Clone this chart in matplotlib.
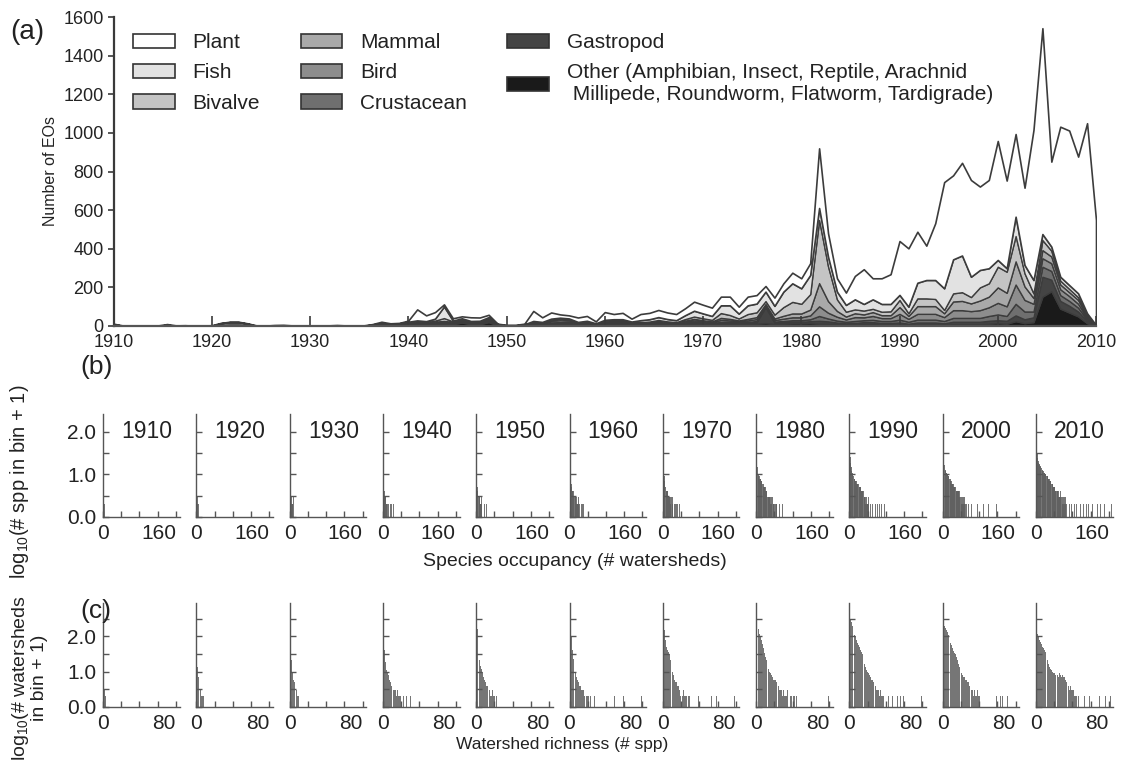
import numpy as np
import matplotlib
matplotlib.use('Agg')
import matplotlib.pyplot as plt
from matplotlib.patches import Patch

plt.rcParams['font.family'] = ['Liberation Sans', 'DejaVu Sans']
plt.rcParams['mathtext.default'] = 'regular'

# ---- panel (a): number of EOs, stacked by group (111 points, 1910-2010) ----
total = [12, 3, 2, 2, 2, 3, 10, 3, 4, 2,
         2, 4, 16, 22, 22, 14, 3, 2, 5, 6,
         3, 2, 2, 2, 3, 5, 3, 2, 3, 10,
         22, 14, 16, 28, 86, 55, 72, 112, 40, 50,
         45, 44, 58, 12, 6, 6, 12, 78, 45, 70,
         60, 55, 44, 52, 24, 72, 62, 68, 38, 62,
         68, 83, 70, 62, 92, 126, 110, 95, 152, 152,
         100, 152, 160, 207, 147, 221, 276, 247, 325, 920,
         480, 247, 173, 259, 294, 247, 247, 268, 440, 402,
         488, 416, 532, 745, 780, 845, 756, 722, 756, 958,
         753, 994, 716, 1015, 1542, 851, 1032, 1012, 877, 1050, 549]

other = [6, 1, 1, 1, 1, 1, 6, 1, 2, 1,
         1, 1, 2, 2, 2, 2, 1, 1, 2, 3,
         1, 1, 1, 1, 1, 3, 1, 1, 1, 4,
         6, 5, 6, 8, 8, 8, 10, 8, 10, 18,
         10, 10, 20, 4, 2, 2, 3, 6, 6, 8,
         8, 8, 6, 8, 5, 10, 12, 12, 8, 5,
         6, 8, 6, 5, 8, 10, 8, 6, 10, 10,
         8, 10, 12, 15, 10, 12, 14, 14, 15, 12,
         12, 10, 8, 8, 10, 10, 8, 8, 8, 6,
         8, 8, 8, 6, 10, 10, 10, 10, 12, 15,
         12, 25, 15, 20, 152, 180, 90, 70, 50, 15, 1]

gastropod = [4, 0, 0, 0, 0, 0, 0, 0, 0, 0,
             0, 0, 0, 0, 0, 0, 0, 0, 0, 0,
             0, 0, 0, 0, 0, 0, 0, 0, 0, 2,
             4, 2, 3, 4, 5, 4, 5, 5, 6, 8,
             5, 6, 10, 2, 1, 1, 2, 4, 4, 4,
             5, 5, 4, 5, 3, 5, 6, 6, 4, 3,
             4, 5, 4, 3, 5, 6, 5, 4, 6, 6,
             5, 6, 8, 85, 8, 8, 8, 8, 10, 15,
             12, 8, 6, 8, 10, 10, 8, 8, 10, 6,
             10, 10, 10, 8, 12, 12, 12, 12, 15, 15,
             15, 30, 20, 25, 103, 60, 40, 35, 25, 10, 1]

crustacean = [0, 0, 0, 0, 0, 0, 0, 0, 0, 0,
              0, 0, 0, 0, 0, 0, 0, 0, 0, 0,
              0, 0, 0, 0, 0, 0, 0, 0, 0, 1,
              1, 1, 1, 2, 3, 2, 2, 3, 2, 3,
              2, 2, 3, 1, 0, 0, 1, 3, 2, 3,
              3, 3, 2, 3, 1, 3, 3, 3, 2, 3,
              3, 4, 3, 3, 4, 5, 5, 4, 6, 5,
              4, 5, 6, 4, 5, 6, 8, 8, 10, 25,
              15, 10, 8, 10, 10, 12, 10, 10, 15, 10,
              15, 15, 15, 12, 20, 20, 20, 20, 25, 30,
              25, 60, 40, 30, 52, 45, 30, 25, 20, 8, 1]

bird = [0, 0, 0, 0, 0, 0, 0, 0, 0, 0,
        0, 0, 4, 6, 6, 4, 0, 0, 0, 0,
        0, 0, 0, 0, 0, 0, 0, 0, 0, 0,
        1, 1, 1, 2, 3, 2, 3, 5, 2, 3,
        2, 2, 3, 1, 0, 0, 1, 3, 2, 4,
        4, 4, 2, 3, 1, 3, 3, 3, 2, 3,
        4, 5, 4, 3, 6, 8, 6, 5, 10, 8,
        6, 8, 10, 5, 8, 12, 15, 15, 20, 50,
        30, 20, 12, 20, 15, 20, 15, 15, 30, 15,
        30, 30, 30, 20, 40, 40, 35, 40, 45, 60,
        50, 100, 60, 40, 44, 40, 30, 25, 20, 8, 0]

mammal = [0, 0, 0, 0, 0, 0, 0, 0, 0, 0,
          0, 0, 8, 12, 12, 6, 0, 0, 0, 0,
          0, 0, 0, 0, 0, 0, 0, 0, 0, 0,
          1, 1, 1, 2, 3, 2, 3, 5, 2, 3,
          2, 2, 3, 1, 0, 0, 1, 3, 2, 8,
          10, 8, 2, 3, 1, 3, 3, 3, 2, 3,
          3, 4, 3, 3, 5, 8, 6, 5, 10, 8,
          6, 8, 10, 5, 8, 15, 20, 20, 30, 120,
          60, 30, 15, 20, 15, 20, 15, 15, 35, 15,
          40, 40, 40, 20, 45, 48, 40, 50, 55, 80,
          70, 120, 70, 30, 42, 35, 25, 20, 20, 8, 0]

bivalve = [0, 0, 0, 0, 0, 0, 0, 0, 0, 0,
           0, 0, 0, 0, 0, 0, 0, 0, 0, 0,
           0, 0, 0, 0, 0, 0, 0, 0, 0, 0,
           0, 0, 0, 1, 2, 2, 5, 15, 2, 2,
           2, 2, 3, 0, 0, 0, 0, 2, 2, 6,
           8, 6, 2, 2, 1, 3, 3, 3, 2, 3,
           3, 5, 4, 3, 8, 12, 10, 8, 25, 20,
           10, 25, 25, 15, 20, 45, 60, 50, 80, 327,
           180, 60, 25, 20, 20, 17, 18, 20, 37, 14,
           40, 40, 37, 17, 42, 45, 33, 68, 69, 107,
           109, 131, 68, 24, 52, 30, 20, 17, 14, 7, 1]

fish = [0, 0, 0, 0, 0, 0, 0, 0, 0, 0,
        0, 0, 0, 0, 0, 0, 0, 0, 0, 0,
        0, 0, 0, 0, 0, 0, 0, 0, 0, 1,
        2, 2, 2, 3, 5, 5, 10, 60, 4, 3,
        3, 3, 4, 1, 0, 0, 1, 5, 3, 5,
        5, 5, 3, 3, 2, 5, 5, 5, 3, 10,
        12, 15, 12, 10, 20, 30, 25, 20, 40, 50,
        25, 45, 45, 49, 45, 80, 96, 80, 99, 62,
        50, 40, 35, 52, 34, 49, 40, 38, 26, 34,
        81, 95, 98, 112, 176, 190, 105, 90, 78, 35,
        18, 100, 43, 69, 31, 21, 20, 20, 20, 10, 1]

group_names = ['Plant', 'Fish', 'Bivalve', 'Mammal', 'Bird', 'Crustacean', 'Gastropod',
               'Other (Amphibian, Insect, Reptile, Arachnid\n Millipede, Roundworm, Flatworm, Tardigrade)']
group_colors = ['#ffffff', '#e2e2e2', '#c4c4c4', '#a9a9a9', '#8d8d8d', '#6f6f6f', '#444444', '#1a1a1a']

year_ticks = list(range(1910, 2011, 10))

# ---- panels (b) and (c): histograms per decade ----
decades = ['1910', '1920', '1930', '1940', '1950', '1960', '1970', '1980', '1990', '2000', '2010']

# species per occupancy bin (consecutive bins from 1) and extra single-species bins
occ_head = [
    [18, 2, 1],
    [2, 2, 1, 1, 0, 1],
    [3, 2, 2, 1, 2, 1, 1, 2],
    [6, 4, 3, 2, 2, 2, 1, 1, 2, 1],
    [9, 4, 3, 3, 2, 2, 2, 2, 1, 1, 2, 1],
    [16, 9, 7, 5, 4, 3, 3, 3, 2, 2, 2, 2, 2, 2, 1, 2, 1, 1, 1, 2, 1, 1, 1],
    [20, 12, 8, 6, 5, 4, 4, 3, 3, 3, 3, 2, 2, 2, 2, 2, 1, 2, 2, 1, 2, 1],
    [32, 20, 14, 11, 9, 8, 8, 7, 7, 7, 6, 6, 5, 5, 5, 5, 4, 4, 4, 4, 3, 3, 3, 3, 2, 3, 2, 2,
     2, 2, 2, 1, 2, 1, 1, 2, 1, 1, 1, 0, 1, 1, 0, 1, 1],
    [40, 25, 18, 14, 11, 10, 9, 9, 8, 8, 7, 7, 6, 6, 6, 5, 5, 5, 5, 5, 4, 4, 4, 4, 4, 3, 3,
     3, 3, 3, 3, 2, 2, 2, 1, 2, 1, 2, 1, 1, 2, 1],
    [50, 30, 22, 16, 13, 12, 11, 10, 10, 9, 9, 8, 8, 8, 7, 7, 7, 6, 6, 5, 5, 5, 5, 4, 4, 4,
     4, 4, 3, 3, 3, 3, 3, 3, 3, 3, 2, 2, 2, 2, 1, 2, 2, 1, 2, 1, 1, 2, 1, 1, 1, 1],
    [60, 40, 30, 24, 20, 18, 17, 16, 15, 14, 13, 13, 12, 12, 11, 11, 10, 10, 10, 9, 9, 9, 8,
     8, 8, 8, 7, 7, 7, 6, 6, 6, 6, 5, 5, 5, 5, 4, 4, 4, 4, 3, 3, 3, 3, 3, 3, 3, 2, 3, 2, 2,
     3, 2, 2, 2, 2, 1, 2, 2, 1, 2, 1, 2, 1, 1],
]
occ_tail = [
    [], [], [], [13, 16, 19, 24], [15, 18, 22, 26], [26, 28, 31],
    [25, 28, 30, 33, 36, 40], [48, 52, 58], [46, 50, 54, 58, 62, 66, 70, 77],
    [56, 60, 64, 71, 76, 82, 90, 100, 118, 128],
    [70, 74, 78, 84, 88, 92, 98, 104, 110, 116, 124, 135, 142, 150, 160, 165],
]

# watersheds per richness bin
rich_head = [
    [24, 2, 1],
    [13, 6, 4, 3, 2, 1, 1, 1],
    [55, 20, 9, 5, 4, 3, 2, 2, 1, 1],
    [100, 40, 18, 10, 9, 7, 5, 4, 3, 3, 3, 2, 2, 2, 1, 2, 1, 1, 1, 0, 1],
    [160, 70, 35, 20, 14, 11, 9, 6, 5, 4, 3, 3, 2, 2, 2, 1, 1, 2, 1, 1],
    [250, 100, 40, 22, 14, 10, 8, 6, 5, 4, 3, 3, 2, 2, 2, 1, 2, 1, 1, 1, 1, 0, 1],
    [300, 150, 80, 50, 40, 35, 30, 20, 15, 11, 9, 7, 5, 4, 4, 3, 3, 2, 1, 2, 1, 1, 2, 1, 1,
     1, 0, 1, 1],
    [400, 250, 160, 120, 99, 80, 60, 45, 32, 25, 20, 16, 13, 11, 9, 8, 7, 6, 5, 5, 5, 4, 4,
     4, 3, 2, 2, 2, 1, 2, 1, 1, 1, 2, 1, 1, 0, 1, 1, 0, 1, 1, 0, 1],
    [320, 250, 200, 160, 130, 110, 99, 80, 65, 55, 48, 40, 35, 30, 25, 20, 16, 13, 10, 9, 8,
     7, 6, 5, 5, 4, 4, 3, 3, 2, 2, 2, 1, 2, 1, 1, 1, 1, 1],
    [250, 200, 170, 150, 130, 110, 99, 80, 65, 55, 45, 38, 33, 30, 25, 20, 16, 13, 11, 9, 8,
     7, 6, 6, 5, 5, 4, 4, 3, 3, 2, 2, 2, 1, 2, 1, 1, 2, 1, 1, 1],
    [160, 120, 100, 80, 70, 60, 50, 45, 40, 35, 30, 25, 20, 16, 13, 11, 10, 9, 8, 8, 7, 8, 7,
     7, 6, 8, 7, 6, 7, 6, 6, 5, 4, 4, 3, 3, 2, 3, 2, 2, 2, 1, 1, 1],
]
rich_tail = [
    [], [], [], [23, 26, 30], [22, 25], [27, 39, 49, 59, 79], [39, 53, 59, 79], [58, 79],
    [43, 47, 50, 53, 56, 59, 79], [59, 63, 66, 71, 77], [47, 53, 56, 59, 70, 76, 80, 82],
]

W, H = 1121, 763
TXT = '#222222'
AX = '#3a3a3a'


def box(l, t, r, b):
    return [l / W, 1 - b / H, (r - l) / W, (b - t) / H]


fig = plt.figure(figsize=(W / 100, H / 100), dpi=100)

# ---------------- (a) ----------------
ax = fig.add_axes(box(113.5, 17, 1096, 326))
x = np.linspace(1910, 2010, len(total))
lower = [other, gastropod, crustacean, bird, mammal, bivalve, fish]
lower_cols = group_colors[::-1][:7]
ax.stackplot(x, lower, colors=lower_cols, edgecolor='#3c3c3c', linewidth=1.0)
base = np.sum(np.array(lower), axis=0)
ax.fill_between(x, base, total, facecolor='white', edgecolor='#3c3c3c', linewidth=1.2)
ax.set_xlim(1910, 2010)
ax.set_ylim(0, 1600)
ax.set_xticks(year_ticks)
ax.set_yticks(range(0, 1601, 200))
ax.tick_params(axis='x', direction='in', length=7, width=1.2, colors=AX,
               labelcolor=TXT, labelsize=13, pad=6)
ax.tick_params(axis='y', direction='out', length=4, width=1.2, colors=AX,
               labelcolor=TXT, labelsize=13, pad=3)
for s in ['top', 'right']:
    ax.spines[s].set_visible(False)
ax.spines['left'].set_color(AX)
ax.spines['left'].set_linewidth(1.6)
ax.spines['bottom'].set_color('#555555')
ax.spines['bottom'].set_linewidth(1.6)
ax.set_ylabel('Number of EOs', fontsize=11.5, color=TXT, labelpad=4)

handles = [Patch(facecolor=c, edgecolor='#333333', linewidth=1.2) for c in group_colors]
ax.legend(handles, group_names, ncol=3, loc='upper left',
          bbox_to_anchor=(133 / W, 1 - 33 / H), bbox_transform=fig.transFigure,
          frameon=False, fontsize=15, handlelength=2.0, handleheight=0.68,
          handletextpad=0.85, labelspacing=0.55, columnspacing=1.95,
          borderpad=0, borderaxespad=0, labelcolor=TXT)

fig.text(10 / W, 1 - 32 / H, '(a)', fontsize=20, color=TXT, va='center', ha='left')
fig.text(80 / W, 1 - 367 / H, '(b)', fontsize=19, color=TXT, va='center', ha='left')
fig.text(80 / W, 1 - 611 / H, '(c)', fontsize=19, color=TXT, va='center', ha='left')


def small_panel(rect, heads, tails, xmax, ylim, xticks, yticks, bar_w, title, first):
    a = fig.add_axes(rect)
    pos = list(range(1, len(heads) + 1)) + tails
    cnt = heads + [1] * len(tails)
    a.bar(pos, np.log10(np.array(cnt) + 1), width=bar_w, color='#5e5e5e',
          linewidth=0, alpha=0.85)
    a.set_xlim(0, xmax)
    a.set_ylim(0, ylim)
    a.set_xticks(xticks, ['0'] + [''] * (len(xticks) - 2) + [str(xticks[-1])])
    a.get_xticklabels()[-1].set_horizontalalignment('right')
    if first:
        a.set_yticks(yticks, ['0.0' if v == 0 else ('%.1f' % v if v in (1.0, 2.0) else '')
                              for v in yticks])
    else:
        a.set_yticks(yticks, [''] * len(yticks))
    a.tick_params(direction='in', length=4, width=1, colors='#555555',
                  labelcolor=TXT, labelsize=15, pad=5)
    for s in ['top', 'right']:
        a.spines[s].set_visible(False)
    for s in ['left', 'bottom']:
        a.spines[s].set_color('#555555')
        a.spines[s].set_linewidth(1.0)
    if title:
        a.text(0.57, 0.83, title, transform=a.transAxes, ha='center', va='center',
               fontsize=16.5, color=TXT)
    return a


for k in range(len(decades)):
    left = 103 + k * 93.3
    small_panel(box(left, 414, left + 76.6, 517), occ_head[k], occ_tail[k], 168, 2.42,
                [0, 40, 80, 120, 160], [0, 0.5, 1.0, 1.5, 2.0], 1.8, decades[k], k == 0)
    small_panel(box(left, 603, left + 76.6, 707), rich_head[k], rich_tail[k], 84, 2.95,
                [0, 20, 40, 60, 80], [0, 0.5, 1.0, 1.5, 2.0, 2.5], 0.9, None, k == 0)

fig.text(575 / W, 1 - 562 / H, 'Species occupancy (# watersheds)', fontsize=14,
         color=TXT, ha='center', va='center')
fig.text(562 / W, 1 - 745 / H, 'Watershed richness (# spp)', fontsize=12.5,
         color=TXT, ha='center', va='center')
fig.text(20 / W, 1 - 482 / H, 'log$_{10}$(# spp in bin + 1)', fontsize=14.5, color=TXT,
         rotation=90, ha='center', va='center')
fig.text(29 / W, 1 - 678 / H, 'log$_{10}$(# watersheds\nin bin + 1)', fontsize=14,
         color=TXT, rotation=90, ha='center', va='center', multialignment='center',
         linespacing=1.0)

fig.savefig('out.png', dpi=100)
